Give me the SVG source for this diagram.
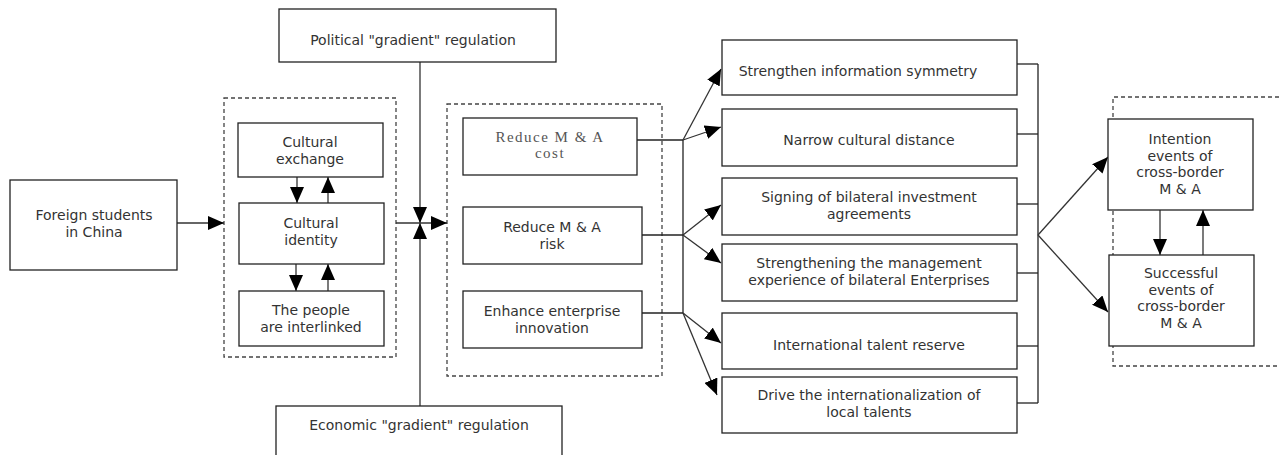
<svg xmlns="http://www.w3.org/2000/svg" width="1279" height="455" viewBox="0 0 1279 455">
<style>
.box{fill:#fff;stroke:#222;stroke-width:1.3}
.dash{fill:none;stroke:#444;stroke-width:1.3;stroke-dasharray:4 3}
.ln{fill:none;stroke:#222;stroke-width:1.3}
.ar{fill:none;stroke:#333;stroke-width:1.3;marker-end:url(#ah)}
text{font-family:"DejaVu Sans","Noto Sans",sans-serif;font-size:14px;fill:#333;text-anchor:middle}
.serif{font-family:"Liberation Serif",serif;font-size:15px;fill:#555;letter-spacing:1.5px}
</style>
<defs>
<marker id="ah" markerUnits="userSpaceOnUse" markerWidth="16" markerHeight="14" refX="16" refY="7" orient="auto">
<path d="M0,0 L16,7 L0,14 z" fill="#000"/>
</marker>
</defs>
<rect width="1279" height="455" fill="#fff"/>

<g id="dashed-groups">
<rect class="dash" x="224" y="98" width="172" height="259"/>
<rect class="dash" x="447" y="104" width="215" height="272"/>
<path class="dash" d="M1279,97 H1113 V366 H1279"/>
</g>

<g id="connectors">
<line class="ar" x1="177" y1="223" x2="224" y2="223"/>
<line class="ar" x1="297" y1="177" x2="297" y2="203"/>
<line class="ar" x1="328" y1="203" x2="328" y2="177"/>
<line class="ar" x1="296" y1="264" x2="296" y2="291"/>
<line class="ar" x1="328" y1="291" x2="328" y2="264"/>
<line class="ar" x1="420" y1="62" x2="420" y2="223"/>
<line class="ar" x1="420" y1="406" x2="420" y2="223"/>
<line class="ar" x1="396" y1="223" x2="447" y2="223"/>
<line class="ln" x1="637" y1="140" x2="683" y2="140"/>
<line class="ln" x1="642" y1="235" x2="683" y2="235"/>
<line class="ln" x1="642" y1="313" x2="683" y2="313"/>
<line class="ln" x1="683" y1="140" x2="683" y2="313"/>
<line class="ar" x1="683" y1="140" x2="721" y2="69"/>
<line class="ar" x1="683" y1="140" x2="721" y2="127"/>
<line class="ar" x1="683" y1="235" x2="721" y2="205"/>
<line class="ar" x1="683" y1="235" x2="721" y2="263"/>
<line class="ar" x1="683" y1="313" x2="721" y2="343"/>
<line class="ar" x1="683" y1="313" x2="717" y2="395"/>
<line class="ln" x1="1017" y1="64" x2="1038" y2="64"/>
<line class="ln" x1="1017" y1="134" x2="1038" y2="134"/>
<line class="ln" x1="1017" y1="204" x2="1038" y2="204"/>
<line class="ln" x1="1017" y1="273" x2="1038" y2="273"/>
<line class="ln" x1="1017" y1="346" x2="1038" y2="346"/>
<line class="ln" x1="1017" y1="403" x2="1038" y2="403"/>
<line class="ln" x1="1038" y1="64" x2="1038" y2="403"/>
<line class="ar" x1="1038" y1="235" x2="1108" y2="157"/>
<line class="ar" x1="1038" y1="235" x2="1108" y2="312"/>
<line class="ar" x1="1160" y1="210" x2="1160" y2="255"/>
<line class="ar" x1="1203" y1="255" x2="1203" y2="210"/>
</g>

<g id="foreign-students">
<rect class="box" x="10" y="180" width="167" height="90"/>
<text x="94" y="220">Foreign students</text>
<text x="94" y="237">in China</text>
</g>

<g id="cultural-exchange">
<rect class="box" x="238" y="123" width="145" height="54"/>
<text x="310" y="147">Cultural</text>
<text x="310" y="163.5">exchange</text>
</g>
<g id="cultural-identity">
<rect class="box" x="239" y="203" width="145" height="61"/>
<text x="311" y="228">Cultural</text>
<text x="311" y="244.5">identity</text>
</g>
<g id="people-interlinked">
<rect class="box" x="239" y="291" width="145" height="55"/>
<text x="311" y="315">The people</text>
<text x="311" y="331.5">are interlinked</text>
</g>

<g id="political">
<rect class="box" x="279" y="9" width="277" height="53"/>
<text x="413" y="45">Political "gradient" regulation</text>
</g>
<g id="economic">
<rect class="box" x="276" y="406" width="286" height="60"/>
<text x="419" y="430">Economic "gradient" regulation</text>
</g>

<g id="reduce-cost">
<rect class="box" x="463" y="118" width="174" height="57"/>
<text class="serif" x="550" y="142">Reduce M &amp; A</text>
<text class="serif" x="550" y="158">cost</text>
</g>
<g id="reduce-risk">
<rect class="box" x="463" y="207" width="179" height="57"/>
<text x="552" y="232">Reduce M &amp; A</text>
<text x="552" y="248.5">risk</text>
</g>
<g id="enhance-innovation">
<rect class="box" x="463" y="291" width="179" height="57"/>
<text x="552" y="316">Enhance enterprise</text>
<text x="552" y="332.5">innovation</text>
</g>

<g id="info-symmetry">
<rect class="box" x="722" y="40" width="295" height="55"/>
<text x="858" y="76">Strengthen  information  symmetry</text>
</g>
<g id="cultural-distance">
<rect class="box" x="722" y="109" width="295" height="57"/>
<text x="869" y="145">Narrow cultural distance</text>
</g>
<g id="investment-agreements">
<rect class="box" x="722" y="178" width="295" height="57"/>
<text x="869" y="202">Signing of bilateral investment</text>
<text x="869" y="218.5">agreements</text>
</g>
<g id="management-experience">
<rect class="box" x="722" y="244" width="295" height="57"/>
<text x="869" y="268">Strengthening the management</text>
<text x="869" y="284.5">experience of bilateral Enterprises</text>
</g>
<g id="talent-reserve">
<rect class="box" x="722" y="313" width="295" height="56"/>
<text x="869" y="350">International talent reserve</text>
</g>
<g id="local-talents">
<rect class="box" x="722" y="377" width="295" height="56"/>
<text x="869" y="400">Drive the internationalization of</text>
<text x="869" y="416.5">local talents</text>
</g>

<g id="intention-events">
<rect class="box" x="1108" y="119" width="145" height="91"/>
<text x="1180" y="144">Intention</text>
<text x="1180" y="160.5">events of</text>
<text x="1180" y="177">cross-border</text>
<text x="1180" y="193.5">M &amp; A</text>
</g>
<g id="successful-events">
<rect class="box" x="1109" y="255" width="145" height="91"/>
<text x="1181" y="278">Successful</text>
<text x="1181" y="294.5">events of</text>
<text x="1181" y="311">cross-border</text>
<text x="1181" y="327.5">M &amp; A</text>
</g>
</svg>
